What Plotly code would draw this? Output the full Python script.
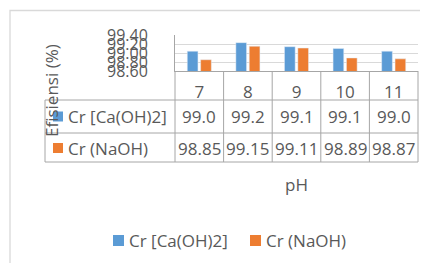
import plotly.graph_objects as go

# ---- data ----
categories = ["7", "8", "9", "10", "11"]
series_names = ["Cr [Ca(OH)2]", "Cr (NaOH)"]
ca_oh2 = [99.04, 99.23, 99.14, 99.10, 99.04]
naoh = [98.85, 99.15, 99.11, 98.89, 98.87]
y_ticks = [98.60, 98.80, 99.00, 99.20, 99.40]
y_tick_text = ["98.60", "98.80", "99.00", "99.20", "99.40"]
x_title = "pH"
y_title = "Efisiensi (%)"

# ---- styling ----
OFF = 8  # page body margin of the browser
W, H = 428 - OFF, 263 - OFF
PL, PR, PT, PB = 175 - OFF, 418 - OFF, 35 - OFF, 71 - OFF
BLUE, ORANGE = "#5B9BD5", "#ED7D31"
TXT = "#595959"
LINE = "#A6A6A6"
GRID = "#D9D9D9"
FONT = "Open Sans"
FS = 17

def py2paper(py):
    # py given in window pixels
    return (PB - (py - OFF)) / (PB - PT)

def px2paper(px):
    return ((px - OFF) - PL) / (PR - PL)

colors = [BLUE, ORANGE]
series = [ca_oh2, naoh]

fig = go.Figure()
for name, vals, col in zip(series_names, series, colors):
    fig.add_trace(go.Bar(x=categories, y=vals, name=name, marker_color=col,
                         showlegend=False))

shapes = []
n = len(categories)
# column lines of the data table
for k in range(n + 1):
    shapes.append(dict(type="line", xref="paper", yref="paper",
                       x0=k / n, x1=k / n, y0=py2paper(71), y1=py2paper(162),
                       line=dict(color=LINE, width=1)))
# left edge of the series-name column
shapes.append(dict(type="line", xref="paper", yref="paper",
                   x0=px2paper(45), x1=px2paper(45), y0=py2paper(100), y1=py2paper(162),
                   line=dict(color=LINE, width=1)))
# row lines
for ry in [100, 133, 162]:
    shapes.append(dict(type="line", xref="paper", yref="paper",
                       x0=px2paper(45), x1=1, y0=py2paper(ry), y1=py2paper(ry),
                       line=dict(color=LINE, width=1)))
# chart border
shapes.append(dict(type="rect", xref="paper", yref="paper",
                   x0=px2paper(10), x1=px2paper(440), y0=py2paper(10.5), y1=py2paper(280),
                   line=dict(color=GRID, width=1.3), layer="below"))

annotations = []
fmts = ["{:.1f}", "{:.2f}"]
row_y = [116.5, 148]
for vals, fmt, cy, col, name in zip(series, fmts, row_y, colors, series_names):
    for i, v in enumerate(vals):
        annotations.append(dict(x=i, xref="x", y=py2paper(cy), yref="paper",
                                text=fmt.format(v), showarrow=False,
                                font=dict(family=FONT, size=FS, color=TXT),
                                xanchor="center", yanchor="middle"))
    shapes.append(dict(type="rect", xref="paper", yref="paper",
                       x0=px2paper(53), x1=px2paper(63), y0=py2paper(cy - 5), y1=py2paper(cy + 5),
                       fillcolor=col, line=dict(width=0)))
    annotations.append(dict(x=px2paper(66), xref="paper", y=py2paper(cy), yref="paper",
                            text=name, showarrow=False,
                            font=dict(family=FONT, size=FS, color=TXT),
                            xanchor="left", yanchor="middle"))

# legend (bottom)
leg_y = 240.5
leg_sq = [113, 250]
leg_tx = [127, 264]
for name, col, sx, tx in zip(series_names, colors, leg_sq, leg_tx):
    shapes.append(dict(type="rect", xref="paper", yref="paper",
                       x0=px2paper(sx), x1=px2paper(sx + 11),
                       y0=py2paper(leg_y - 5.5), y1=py2paper(leg_y + 5.5),
                       fillcolor=col, line=dict(width=0)))
    annotations.append(dict(x=px2paper(tx), xref="paper", y=py2paper(leg_y), yref="paper",
                            text=name, showarrow=False,
                            font=dict(family=FONT, size=FS, color=TXT),
                            xanchor="left", yanchor="middle"))

annotations.append(dict(x=0.5, xref="paper", y=py2paper(185), yref="paper",
                        text=x_title, showarrow=False,
                        font=dict(family=FONT, size=FS, color=TXT),
                        xanchor="center", yanchor="middle"))
annotations.append(dict(x=px2paper(51), xref="paper", y=py2paper(91), yref="paper",
                        text=y_title, showarrow=False, textangle=-90,
                        font=dict(family=FONT, size=FS, color=TXT),
                        xanchor="center", yanchor="middle"))

fig.update_layout(
    width=W, height=H,
    margin=dict(l=PL, r=W - PR, t=PT, b=H - PB, pad=0, autoexpand=False),
    paper_bgcolor="white", plot_bgcolor="white",
    barmode="group", bargap=0.45, bargroupgap=0.2,
    font=dict(family=FONT, size=FS, color=TXT),
    shapes=shapes, annotations=annotations,
    showlegend=False,
    xaxis=dict(type="category", showline=True, linecolor=LINE, linewidth=1,
               showgrid=False, ticks="", ticklabelstandoff=6, automargin=False,
               tickfont=dict(family=FONT, size=FS, color=TXT)),
    yaxis=dict(range=[98.6, 99.4], tickvals=y_ticks, ticktext=y_tick_text,
               showline=True, linecolor=LINE, linewidth=1, automargin=False,
               showgrid=True, gridcolor=GRID, gridwidth=1, zeroline=False,
               ticks="", ticklabelstandoff=23,
               tickfont=dict(family=FONT, size=16, color=TXT)),
)

fig.write_html("out.html")
